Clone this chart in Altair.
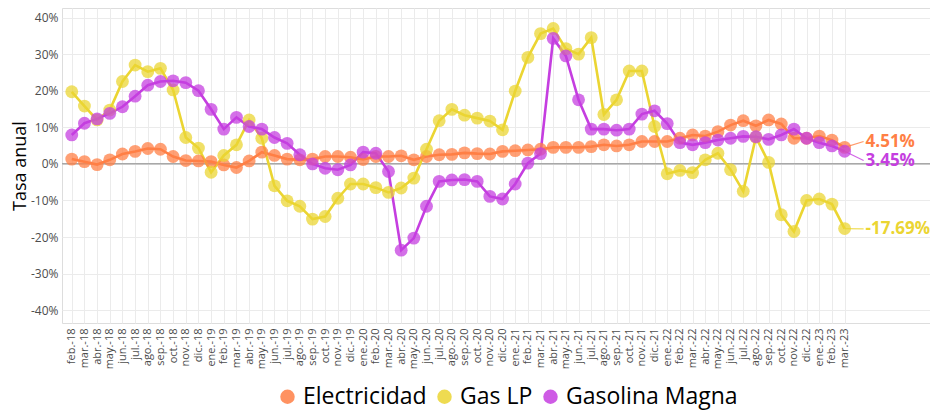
import altair as alt
import pandas as pd

months = [
    "feb.-18", "mar.-18", "abr.-18", "may.-18", "jun.-18", "jul.-18", "ago.-18", "sep.-18", "oct.-18", "nov.-18", "dic.-18",
    "ene.-19", "feb.-19", "mar.-19", "abr.-19", "may.-19", "jun.-19", "jul.-19", "ago.-19", "sep.-19", "oct.-19", "nov.-19", "dic.-19",
    "ene.-20", "feb.-20", "mar.-20", "abr.-20", "may.-20", "jun.-20", "jul.-20", "ago.-20", "sep.-20", "oct.-20", "nov.-20", "dic.-20",
    "ene.-21", "feb.-21", "mar.-21", "abr.-21", "may.-21", "jun.-21", "jul.-21", "ago.-21", "sep.-21", "oct.-21", "nov.-21", "dic.-21",
    "ene.-22", "feb.-22", "mar.-22", "abr.-22", "may.-22", "jun.-22", "jul.-22", "ago.-22", "sep.-22", "oct.-22", "nov.-22", "dic.-22",
    "ene.-23", "feb.-23", "mar.-23",
]

electricidad = [
    1.3, 0.6, -0.2, 1.1, 2.7, 3.4, 4.2, 4.0, 2.0, 0.9, 0.8,
    0.6, -0.3, -1.0, 0.8, 3.2, 2.3, 1.3, 1.1, 1.3, 2.0, 2.0, 1.8,
    1.2, 2.0, 2.0, 2.2, 1.1, 2.0, 2.5, 2.6, 3.0, 2.8, 2.7, 3.4,
    3.6, 3.8, 4.0, 4.5, 4.5, 4.5, 4.7, 5.2, 4.9, 5.2, 6.1, 6.1,
    6.1, 7.0, 7.9, 7.6, 8.8, 10.6, 11.8, 10.4, 12.0, 10.9, 7.0, 7.0,
    7.6, 6.5, 4.51,
]

gas_lp = [
    19.7, 15.8, 12.0, 14.7, 22.5, 27.0, 25.2, 26.1, 20.2, 7.2, 4.3,
    -2.3, 2.3, 5.2, 12.0, 7.0, -6.0, -10.1, -11.6, -15.1, -14.4, -9.4, -5.5,
    -5.5, -6.5, -7.8, -6.6, -3.9, 4.0, 11.8, 14.9, 13.3, 12.5, 11.7, 9.3,
    19.9, 29.1, 35.6, 37.0, 31.5, 30.0, 34.5, 13.5, 17.5, 25.4, 25.4, 10.2,
    -2.7, -1.8, -2.4, 1.1, 2.9, -1.6, -7.5, 7.3, 0.4, -13.9, -18.5, -10.0,
    -9.6, -11.0, -17.69,
]

gasolina_magna = [
    7.9, 11.1, 12.3, 13.8, 15.6, 18.5, 21.5, 22.5, 22.7, 22.2, 20.0,
    14.9, 9.5, 12.7, 10.2, 9.5, 7.2, 5.6, 2.5, 0.0, -1.2, -1.6, -0.3,
    3.2, 2.9, -2.1, -23.6, -20.3, -11.6, -4.8, -4.4, -4.3, -4.8, -8.9, -9.6,
    -5.5, 0.2, 2.8, 34.3, 29.5, 17.5, 9.5, 9.5, 9.2, 9.5, 13.6, 14.5,
    11.0, 5.8, 5.2, 5.8, 6.5, 7.0, 7.5, 7.4, 6.7, 7.9, 9.5, 7.0,
    5.8, 4.9, 3.45,
]

series = ["Electricidad", "Gas LP", "Gasolina Magna"]
colors = ["#FF7F45", "#EBD532", "#C53EE0"]
y_ticks = [-40, -30, -20, -10, 0, 10, 20, 30, 40]

FONT = "Open Sans"

rows = []
for name, vals in zip(series, [electricidad, gas_lp, gasolina_magna]):
    for i, (m, v) in enumerate(zip(months, vals)):
        rows.append({"serie": name, "idx": i, "mes": m, "tasa": v})
df = pd.DataFrame(rows)

last = df[df["idx"] == len(months) - 1].copy()

label_expr = "[" + ",".join("'" + m + "'" for m in months) + "][datum.value]"

x_axis = alt.Axis(
    values=list(range(len(months))),
    labelExpr=label_expr,
    labelAngle=-90,
    labelOverlap=False,
    labelFlush=False,
    labelBound=False,
    labelFontSize=11,
    labelColor="#4D4D4D",
    labelFont=FONT,
    labelPadding=5,
    ticks=False,
    domain=False,
    grid=True,
    gridColor="#EBEBEB",
    gridWidth=1,
    title=None,
)
x_scale = alt.Scale(domain=[-0.77, 67.74], nice=False, zero=False)
x_enc = alt.X("idx:Q", scale=x_scale, axis=x_axis)

y_axis = alt.Axis(
    values=y_ticks,
    labelExpr="datum.value + '%'",
    labelFlush=False,
    labelFontSize=12,
    labelColor="#4D4D4D",
    labelFont=FONT,
    labelPadding=4,
    ticks=False,
    domain=False,
    grid=True,
    gridColor="#EBEBEB",
    gridWidth=1,
    title="Tasa anual",
    titleFont=FONT,
    titleFontSize=18,
    titleFontWeight="normal",
    titleColor="#000000",
    titlePadding=1,
)
y_scale = alt.Scale(domain=[-43.5, 42.6], nice=False, zero=False)
y_enc = alt.Y("tasa:Q", scale=y_scale, axis=y_axis)

color_scale = alt.Scale(domain=series, range=colors)

base = alt.Chart(df)

zero = alt.Chart(pd.DataFrame({"tasa": [0]})).mark_rule(
    color="#A8A8A8", strokeWidth=1.5
).encode(y=y_enc)

lines = base.mark_line(strokeWidth=2.6).encode(
    x=x_enc,
    y=y_enc,
    color=alt.Color("serie:N", scale=color_scale, legend=None),
)

points = base.mark_circle(size=165, opacity=0.74).encode(
    x=x_enc,
    y=y_enc,
    color=alt.Color(
        "serie:N",
        scale=color_scale,
        legend=alt.Legend(
            orient="none",
            legendX=214,
            legendY=377,
            direction="horizontal",
            title=None,
            labelFontSize=23,
            labelFont=FONT,
            labelColor="#000000",
            labelLimit=0,
            symbolType="circle",
            symbolSize=210,
            symbolOpacity=0.85,
            symbolStrokeWidth=0,
            columnPadding=6,
            labelOffset=4,
        ),
    ),
)

nudge_expr = "datum.serie == 'Electricidad' ? 1.6 : (datum.serie == 'Gasolina Magna' ? -2.55 : -0.1)"

label_base = alt.Chart(last).transform_calculate(
    ly="datum.tasa + (" + nudge_expr + ")",
    lx2="datum.idx + 1.5",
    lbl="replace(format(datum.tasa, '.2f'), '\u2212', '-') + '%'",
)

connectors = label_base.mark_rule(strokeWidth=1.2, opacity=0.8).encode(
    x=x_enc,
    x2="lx2:Q",
    y=y_enc,
    y2="ly:Q",
    color=alt.Color("serie:N", scale=color_scale, legend=None),
)

labels = label_base.mark_text(
    align="left", baseline="middle", fontSize=17, fontWeight="bold", font=FONT, dx=21
).encode(
    x=x_enc,
    y=alt.Y("ly:Q", scale=y_scale, axis=y_axis),
    text="lbl:N",
    color=alt.Color("serie:N", scale=color_scale, legend=None),
)

chart = alt.layer(zero, lines, connectors, points, labels).resolve_scale(
    color="independent"
).properties(
    width=868,
    height=315,
    autosize=alt.AutoSizeParams(type="none"),
    padding={"left": 54, "top": 0, "right": 0, "bottom": 87},
).configure_view(stroke=None).configure(font=FONT).configure_axis(labelOverlap=False)

chart.save("out.html", embed_options={"renderer": "svg", "actions": False})
